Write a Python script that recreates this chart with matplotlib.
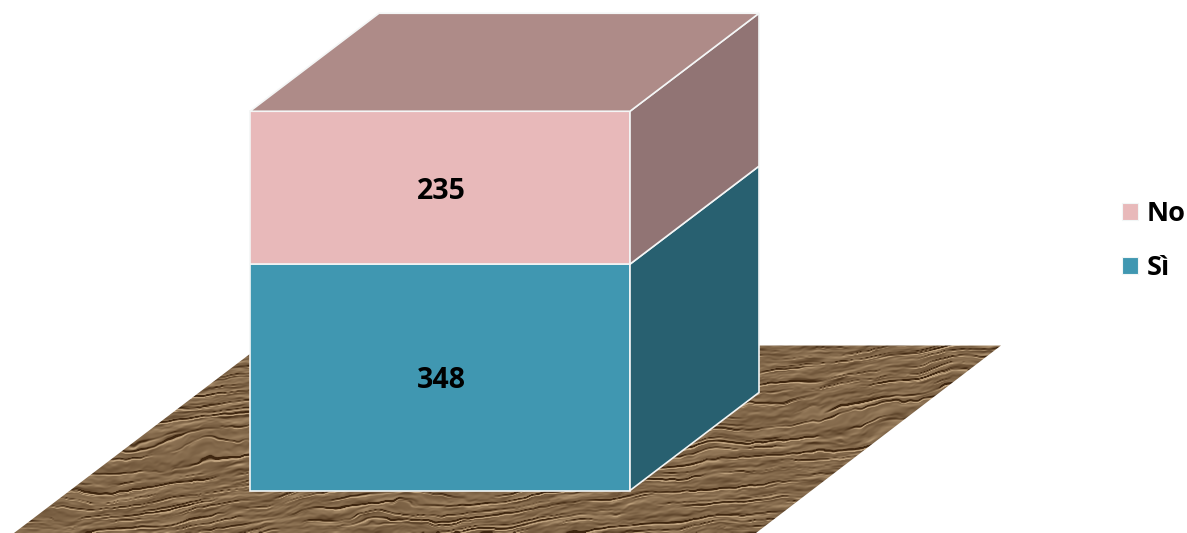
import numpy as np
import matplotlib
matplotlib.use("Agg")
import matplotlib.pyplot as plt
from matplotlib.patches import Polygon, Patch

categories = ["Sì", "No"]
values = [348, 235]
front_colors = ["#4097B1", "#E8B9BA"]
side_colors = ["#286070", "#917474"]
top_color = "#AE8B88"

W, H = 1187, 533
PX_PER_UNIT = 0.6505
BASE_PX = 490.5
plt.rcParams["font.family"] = ["Open Sans", "DejaVu Sans"]

fig = plt.figure(figsize=(W / 100, H / 100), dpi=100)
ax = fig.add_axes([0, 0, 1, 1])
ax.set_xlim(0, W)
ax.set_ylim((BASE_PX - H) / PX_PER_UNIT, BASE_PX / PX_PER_UNIT)
ax.axis("off")

x0, x1 = 250, 630
dx = 129
dy = 98 / PX_PER_UNIT


def to_y(py):
    return (BASE_PX - py) / PX_PER_UNIT


def cell_noise(u, v):
    """Smooth lattice noise from a fixed hash (floor texture only)."""
    iu, iv = np.floor(u), np.floor(v)
    fu, fv = u - iu, v - iv
    fu, fv = fu * fu * (3 - 2 * fu), fv * fv * (3 - 2 * fv)

    def h(a, b):
        s = np.sin(a * 12.9898 + b * 78.233) * 43758.5453
        return s - np.floor(s)

    return ((h(iu, iv) * (1 - fu) + h(iu + 1, iv) * fu) * (1 - fv)
            + (h(iu, iv + 1) * (1 - fu) + h(iu + 1, iv + 1) * fu) * fv)


# floor texture: embossed, long near-parallel creases (bark look)
xx, yy = np.meshgrid(np.arange(0, W, 1.0), np.arange(0, H, 1.0))
u = xx
v = yy + 0.12 * xx
pv = (v + 22 * (cell_noise(u / 120, v / 45) - 0.5)
      + 7 * (cell_noise(u / 34 + 7, v / 16 + 3) - 0.5)
      + 1.6 * (cell_noise(u / 7 + 4, v / 5 + 9) - 0.5))
band1 = np.abs(np.sin(pv * np.pi / 15))
band2 = np.abs(np.sin((pv + 5) * np.pi / 8.5))
gate1 = np.clip(2.6 * cell_noise(u / 60 + 3, v / 9 + 9) - 0.75, 0, 1)
gate2 = np.clip(2.6 * cell_noise(u / 32 + 17, v / 6 + 21) - 0.95, 0, 1)
crease1 = np.exp(-(band1 / 0.11) ** 2) * gate1
crease2 = np.exp(-(band2 / 0.15) ** 2) * gate2
relief = (1.5 * cell_noise(u / 30, pv / 5) + 1.0 * cell_noise(u / 14 + 5, pv / 2.6 + 8)
          + 0.5 * cell_noise(u / 6 + 2, pv / 1.6 + 4) - 3.5 * crease1 - 2.0 * crease2)
shade = np.gradient(relief, axis=0) + 0.25 * np.gradient(relief, axis=1)
tex = 0.53 + 0.55 * shade + 0.12 * (cell_noise(u / 22 + 31, pv / 4 + 13) - 0.5)
tex -= 0.42 * crease1 + 0.18 * crease2
tex = np.clip(tex, 0, 1)
dark = np.array([0x3E, 0x26, 0x10]) / 255
light = np.array([0xBE, 0xA2, 0x7E]) / 255
rgb = dark + (light - dark) * tex[..., None]
im = ax.imshow(rgb, extent=(0, W, to_y(H), to_y(0)), origin="upper",
               aspect="auto", interpolation="bilinear", zorder=1)
ax.set_xlim(0, W)
ax.set_ylim(to_y(H), to_y(0))
floor = Polygon([(14, to_y(533)), (756, to_y(533)), (1001, to_y(345.5)), (261, to_y(345.5))],
                closed=True, transform=ax.transData, facecolor="none", edgecolor="none")
ax.add_patch(floor)
im.set_clip_path(floor)

# stacked 3-D column, front faces from the values
bottom = 0
for val, fc, sc, name in zip(values, front_colors, side_colors, categories):
    ax.bar((x0 + x1) / 2, val, width=x1 - x0, bottom=bottom, color=fc,
           edgecolor="#F4F6F6", linewidth=1.2, zorder=3, label=name)
    ax.add_patch(Polygon([(x1, bottom), (x1 + dx, bottom + dy), (x1 + dx, bottom + val + dy), (x1, bottom + val)],
                         closed=True, facecolor=sc, edgecolor="#F4F6F6", linewidth=1.2, zorder=3))
    ax.annotate(str(val), ((x0 + x1) / 2, bottom + val / 2), xytext=(1, -2.6), textcoords="offset points",
                ha="center", va="center", fontsize=20.5, fontweight="bold", color="black", zorder=5)
    bottom += val

ax.add_patch(Polygon([(x0, bottom), (x1, bottom), (x1 + dx, bottom + dy), (x0 + dx, bottom + dy)],
                     closed=True, facecolor=top_color, edgecolor="#F4F6F6", linewidth=1.2, zorder=3))

handles = [Patch(facecolor=c, edgecolor="#F2F6F6", linewidth=0.8) for c in front_colors[::-1]]
leg = ax.legend(handles, categories[::-1], loc="center left",
                bbox_to_anchor=(1122 / W, 1 - 241 / H), bbox_transform=fig.transFigure,
                frameon=False, handlelength=0.58, handleheight=0.58, handletextpad=0.32,
                labelspacing=1.06, borderpad=0, borderaxespad=0,
                prop={"weight": "bold", "size": 19.5, "family": ["Open Sans", "DejaVu Sans"]})

fig.savefig("out.png", dpi=100)
